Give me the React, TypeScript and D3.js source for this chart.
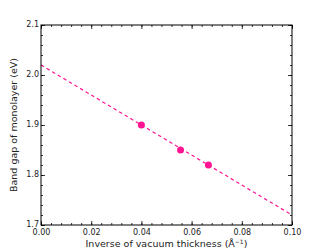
import React, { useEffect, useRef } from 'react';
import * as d3 from 'd3';

// measured band gaps vs inverse vacuum thickness
const invThickness = [0.04, 0.0556, 0.0667];
const bandGap = [1.9, 1.85, 1.82];
// linear fit, evaluated at the axis ends
const fitX = [0.0, 0.1];
const fitY = [2.02, 1.72];
const xTicks = [0, 0.02, 0.04, 0.06, 0.08, 0.1];
const yTicks = [1.7, 1.8, 1.9, 2.0, 2.1];

const App: React.FC = () => {
  const svgRef = useRef<SVGSVGElement | null>(null);

  useEffect(() => {
    if (!svgRef.current) return;
    const width = 325;
    const height = 250;
    const margin = { top: 25, right: 33, bottom: 25, left: 41 };
    const innerW = width - margin.left - margin.right;
    const innerH = height - margin.top - margin.bottom;
    const pink = '#ff1493';
    const font = 'DejaVu Sans, sans-serif';

    const svg = d3.select(svgRef.current);
    svg.selectAll('*').remove();
    const g = svg.append('g').attr('transform', `translate(${margin.left},${margin.top})`);

    const x = d3.scaleLinear().domain([0, 0.1]).range([0, innerW]);
    const y = d3.scaleLinear().domain([1.7, 2.1]).range([innerH, 0]);

    const xMinor = d3.range(0, 0.1001, 0.004);
    const yMinor = d3.range(1.7, 2.1001, 0.02);

    // inward ticks on all four sides
    const addAxis = (axis: d3.Axis<d3.NumberValue>, tx: number, ty: number, cls: string) => {
      const a = g.append('g').attr('class', cls).attr('transform', `translate(${tx},${ty})`).call(axis);
      a.select('.domain').remove();
      a.selectAll('line').attr('stroke', '#000').attr('stroke-width', 0.8);
      return a;
    };

    const fmt2 = d3.format('.2f');
    const fmt1 = d3.format('.1f');

    addAxis(d3.axisBottom(x).tickValues(xMinor).tickSize(-2).tickFormat(() => ''), 0, innerH, 'xm-b');
    addAxis(d3.axisTop(x).tickValues(xMinor).tickSize(-2).tickFormat(() => ''), 0, 0, 'xm-t');
    addAxis(d3.axisLeft(y).tickValues(yMinor).tickSize(-2).tickFormat(() => ''), 0, 0, 'ym-l');
    addAxis(d3.axisRight(y).tickValues(yMinor).tickSize(-2).tickFormat(() => ''), innerW, 0, 'ym-r');

    const xb = addAxis(
      d3.axisBottom(x).tickValues(xTicks).tickSize(-4).tickFormat((d) => fmt2(+d)),
      0, innerH, 'x-axis'
    );
    addAxis(d3.axisTop(x).tickValues(xTicks).tickSize(-4).tickFormat(() => ''), 0, 0, 'x-top');
    const yl = addAxis(
      d3.axisLeft(y).tickValues(yTicks).tickSize(-4).tickFormat((d) => fmt1(+d)),
      0, 0, 'y-axis'
    );
    addAxis(d3.axisRight(y).tickValues(yTicks).tickSize(-4).tickFormat(() => ''), innerW, 0, 'y-right');

    xb.selectAll('text').attr('y', 4.5).style('font-family', font).style('font-size', '8px').style('fill', '#222');
    yl.selectAll('text').attr('x', -2).attr('dy', '0.2em').style('font-family', font).style('font-size', '8px').style('fill', '#222');

    // fit line
    const line = d3.line<number>().x((d, i) => x(fitX[i])).y((d, i) => y(fitY[i]));
    g.append('path')
      .datum(fitX)
      .attr('d', line)
      .attr('fill', 'none')
      .attr('stroke', pink)
      .attr('stroke-width', 1.2)
      .attr('stroke-dasharray', '3.5,3');

    // data points
    g.selectAll('.pt')
      .data(invThickness)
      .enter()
      .append('circle')
      .attr('class', 'pt')
      .attr('cx', (d) => x(d))
      .attr('cy', (d, i) => y(bandGap[i]))
      .attr('r', 3.5)
      .attr('fill', pink);

    // frame
    g.append('rect')
      .attr('width', innerW)
      .attr('height', innerH)
      .attr('fill', 'none')
      .attr('stroke', '#000')
      .attr('stroke-width', 1);

    // axis labels
    const xl = svg.append('text')
      .attr('x', margin.left + innerW / 2)
      .attr('y', 247)
      .attr('text-anchor', 'middle')
      .style('font-family', font)
      .style('font-size', '9.5px')
      .style('fill', '#222');
    xl.append('tspan').text('Inverse of vacuum thickness (Å');
    xl.append('tspan').attr('dy', -3.5).style('font-size', '6px').text('−1');
    xl.append('tspan').attr('dy', 3.5).text(')');

    svg.append('text')
      .attr('transform', `translate(17,${margin.top + innerH / 2}) rotate(-90)`)
      .attr('text-anchor', 'middle')
      .style('font-family', font)
      .style('font-size', '9.5px')
      .style('fill', '#222')
      .text('Band gap of monolayer (eV)');
  }, []);

  return (
    <div style={{ position: 'absolute', left: 0, top: 0 }}>
      <svg ref={svgRef} width={325} height={250} style={{ display: 'block', background: '#fff' }}></svg>
    </div>
  );
};

export default App;
